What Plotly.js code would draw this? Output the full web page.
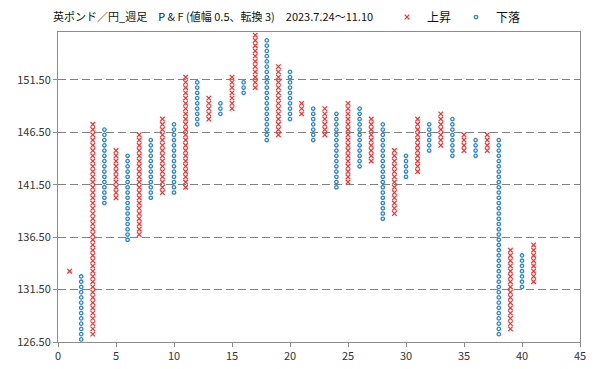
<!DOCTYPE html>
<html>
<head>
<meta charset="utf-8">
<script src="https://cdn.plot.ly/plotly-3.0.1.min.js"></script>
<style>
html,body{margin:0;padding:0;background:#fff;}
#chart{width:599px;height:369px;outline:1px solid #8c8c8c;outline-offset:-1px;}
</style>
</head>
<body>
<div id="chart"></div>
<script>
// Point & Figure columns (box size 0.5, reversal 3)
const boxSize = 0.5;
const columnNo   = [1,2,3,4,5,6,7,8,9,10,11,12,13,14,15,16,17,18,19,20,21,22,23,24,25,26,27,28,29,30,31,32,33,34,35,36,37,38,39,40,41];
const columnType = ['X','O','X','O','X','O','X','O','X','O','X','O','X','O','X','O','X','O','X','O','X','O','X','O','X','O','X','O','X','O','X','O','X','O','X','O','X','O','X','O','X'];
const columnHigh = [133.25,132.75,147.25,146.75,144.75,144.25,146.25,145.75,147.75,147.25,151.75,151.25,149.75,149.25,151.75,151.25,155.75,155.25,152.75,152.25,149.25,148.75,148.75,148.25,149.25,148.75,147.75,147.25,144.75,144.25,147.75,147.25,148.25,147.75,146.25,145.75,146.25,145.75,135.25,134.75,135.75];
const columnLow  = [133.25,126.75,127.25,139.75,140.25,136.25,136.75,140.25,140.75,140.75,141.25,147.25,147.75,148.25,148.75,150.25,150.75,145.75,146.25,147.75,148.25,145.75,146.25,141.25,141.75,143.25,143.75,138.25,138.75,142.25,142.75,144.75,145.25,144.25,144.75,144.25,144.75,127.25,127.75,131.75,132.25];
const yTickVals  = [126.5,131.5,136.5,141.5,146.5,151.5];
const xTickVals  = [0,5,10,15,20,25,30,35,40,45];

const upX = [], upY = [], dnX = [], dnY = [];
columnNo.forEach((c, i) => {
  const n = Math.round((columnHigh[i] - columnLow[i]) / boxSize);
  for (let k = 0; k <= n; k++) {
    const v = columnLow[i] + k * boxSize;
    if (columnType[i] === 'X') { upX.push(c); upY.push(v); }
    else { dnX.push(c); dnY.push(v); }
  }
});

const font = "'Noto Sans CJK JP', 'Noto Sans', sans-serif";

const traces = [
  {x: upX, y: upY, type: 'scatter', mode: 'markers', name: '上昇',
   marker: {symbol: 'x-thin-open', size: 4.6, color: '#ff2a2a', line: {color: '#ff2a2a', width: 1.2}}},
  {x: dnX, y: dnY, type: 'scatter', mode: 'markers', name: '下落',
   marker: {symbol: 'circle-open', size: 3.4, color: '#2a86d4', line: {color: '#2a86d4', width: 1.3}}}
];

const layout = {
  width: 599, height: 369,
  margin: {l: 58, r: 19, t: 30, b: 27, pad: 0},
  paper_bgcolor: '#ffffff', plot_bgcolor: '#ffffff',
  font: {family: font, size: 11, color: '#333333'},
  title: {text: '英ポンド／円_週足　P & F (値幅 0.5、転換 3)　2023.7.24～11.10',
          font: {family: font, size: 11, color: '#111111'},
          xref: 'container', yref: 'container', x: 53/599, xanchor: 'left', y: 1 - 17/369, yanchor: 'middle'},
  showlegend: true,
  legend: {orientation: 'h', xref: 'container', yref: 'container', x: 387/599, xanchor: 'left',
           y: 1 - 17/369, yanchor: 'middle',
           font: {family: font, size: 12, color: '#111111'}, bgcolor: 'rgba(0,0,0,0)', itemwidth: 30},
  xaxis: {range: [0, 45], tickvals: xTickVals, ticktext: xTickVals.map(String),
          showgrid: false, zeroline: false, showline: true, linecolor: '#8c8c8c', linewidth: 1, mirror: true,
          ticks: 'outside', ticklen: 4, tickcolor: '#8c8c8c', tickfont: {size: 11, color: '#333333'}},
  yaxis: {range: [126.5, 156.1], tickvals: yTickVals, ticktext: yTickVals.map(v => v.toFixed(2)),
          showgrid: true, gridcolor: '#808080', griddash: '8px,4px', gridwidth: 1,
          zeroline: false, showline: true, linecolor: '#8c8c8c', linewidth: 1, mirror: true,
          ticks: 'outside', ticklen: 4, tickcolor: '#8c8c8c', tickfont: {size: 11, color: '#333333'}}
};

Plotly.newPlot('chart', traces, layout, {displayModeBar: false, staticPlot: true});
</script>
</body>
</html>
